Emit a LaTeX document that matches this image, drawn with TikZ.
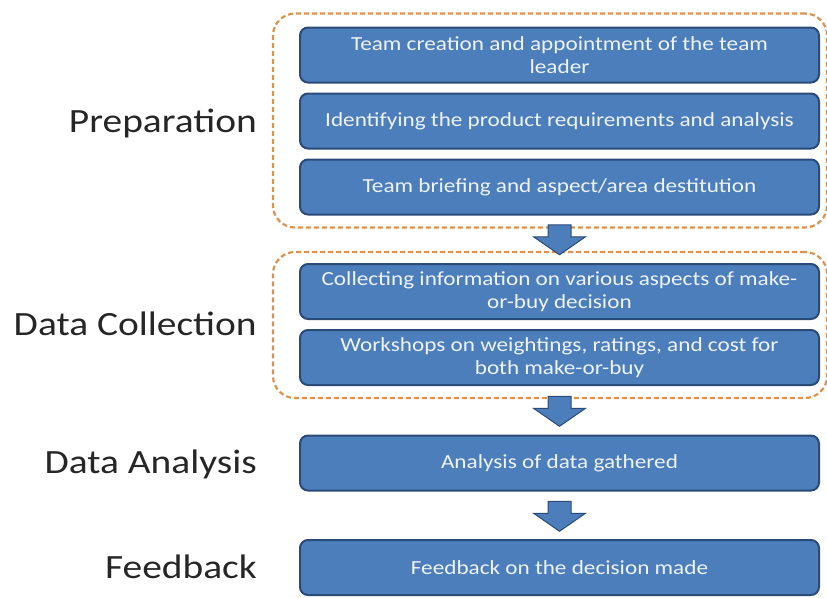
\documentclass[tikz,border=0pt]{standalone}
\usepackage{fontspec}
\setmainfont{Carlito}[FakeStretch=1.16]
\usetikzlibrary{calc}
\usetikzlibrary{fit}

\definecolor{stepblue}{RGB}{76,126,187}
\definecolor{stepedge}{RGB}{42,74,120}
\definecolor{steptext}{RGB}{238,242,250}
\definecolor{phaseorange}{RGB}{222,146,80}

\tikzset{
  stepbox/.style={draw=stepedge, fill=stepblue, line width=2pt, rounded corners=8pt,
    minimum width=519pt, minimum height=55pt, align=center, text=steptext,
    font=\fontsize{20}{23}\selectfont, inner sep=2pt},
  phasebox/.style={draw=phaseorange, line width=2.2pt, dash pattern=on 5pt off 3pt,
    rounded corners=22pt, inner sep=0pt},
  phaselabel/.style={anchor=base east, text=black!85, font=\fontsize{34}{40}\selectfont, inner sep=0pt},
  blockarrow/.style={fill=stepblue, draw=stepedge, line width=1pt}
}

% block arrow between two nodes: upper, lower, vertical shift
\newcommand{\stepArrow}[3]{%
  \coordinate (mid) at ($(#1.south)!.5!(#2.north)$);
  \coordinate (mid) at (mid -| b1);
  \draw[blockarrow] ($(mid)+(-11.5,-15+#3)$) -- ++(23,0) -- ++(0,12) -- ++(14.5,0)
    -- ++(-26,18) -- ++(-26,-18) -- ++(14.5,0) -- cycle;
}

\begin{document}
\begin{tikzpicture}[x=1pt, y=-1pt]
\useasboundingbox (0,0) rectangle (827,597);

% steps
\node[stepbox] (b1) at (559.5,55) {Team creation and appointment of the team\\leader};
\node[stepbox] (b2) at (559.5,121) {Identifying the product requirements and analysis};
\node[stepbox] (b3) at (559.5,187) {Team briefing and aspect/area destitution};
\node[stepbox] (b4) at (559.5,291.5) {Collecting information on various aspects of make-\\or-buy decision};
\node[stepbox] (b5) at (559.5,357.5) {Workshops on weightings, ratings, and cost for\\both make-or-buy};
\node[stepbox] (b6) at (559.5,463) {Analysis of data gathered};
\node[stepbox] (b7) at (559.5,567.5) {Feedback on the decision made};

% phase frames
\coordinate (f1nw) at ($(b1.north west)+(-26,-13)$);
\coordinate (f1se) at ($(b3.south east)+(7,12)$);
\coordinate (f2nw) at ($(b4.north west)+(-26,-11)$);
\coordinate (f2se) at ($(b5.south east)+(7,12)$);
\node[phasebox, fit=(f1nw)(f1se)] (f1) {};
\node[phasebox, fit=(f2nw)(f2se)] (f2) {};

% phase labels
\node[phaselabel] (l1) at (257,132) {Preparation};
\node[phaselabel] (l2) at (257,335) {Data Collection};
\node[phaselabel] (l3) at (257,473) {Data Analysis};
\node[phaselabel] (l4) at (257,578) {Feedback};

% arrows
\stepArrow{f1}{f2}{0}
\stepArrow{f2}{b6}{-5.5}
\stepArrow{b6}{b7}{1}

\end{tikzpicture}
\end{document}
